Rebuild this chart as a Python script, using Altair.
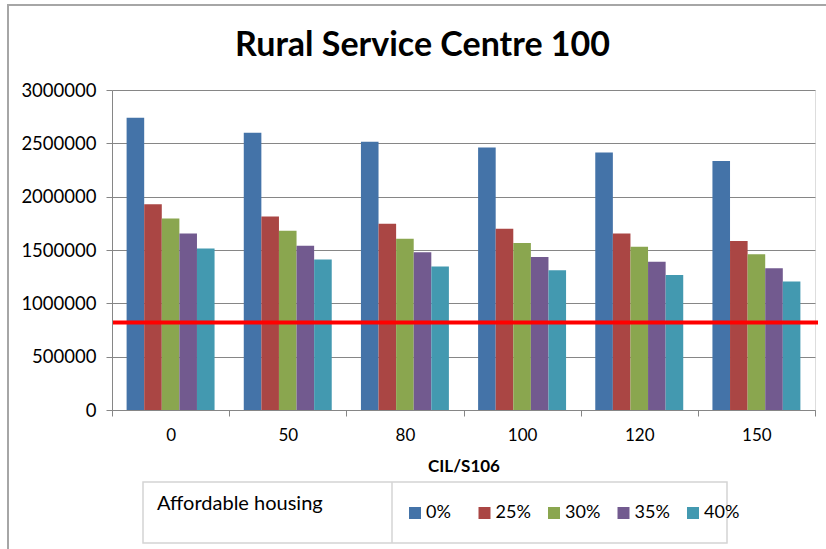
import altair as alt
import pandas as pd

cil = ["0", "50", "80", "100", "120", "150"]
housing = ["0%", "25%", "30%", "35%", "40%"]
v0 = [2740000, 2600000, 2515000, 2460000, 2415000, 2335000]
v25 = [1930000, 1815000, 1745000, 1700000, 1655000, 1585000]
v30 = [1795000, 1680000, 1605000, 1565000, 1530000, 1460000]
v35 = [1655000, 1540000, 1480000, 1435000, 1390000, 1330000]
v40 = [1515000, 1410000, 1345000, 1310000, 1265000, 1205000]
threshold = [820000]
colors = ["#4473A8", "#AA4644", "#8AA64F", "#725A8F", "#4399B0"]
y_ticks = [0, 500000, 1000000, 1500000, 2000000, 2500000, 3000000]

series = [v0, v25, v30, v35, v40]
rows = []
for h, vals in zip(housing, series):
    for c, v in zip(cil, vals):
        rows.append({"cil": c, "ah": h, "value": v})
df = pd.DataFrame(rows)

FONT = "Lato"
GRAY = "#868686"

bars = alt.Chart(df).mark_bar().encode(
    x=alt.X("cil:N", sort=cil,
            scale=alt.Scale(paddingInner=0, paddingOuter=0),
            axis=alt.Axis(title="CIL/S106", tickBand="extent", labelAngle=0,
                          grid=False, domainColor=GRAY, tickColor=GRAY,
                          tickSize=6, labelPadding=11, labelFontSize=17,
                          labelFont=FONT, labelColor="black",
                          titleFont=FONT, titleFontSize=17, titleFontWeight="bold",
                          titleColor="black", titlePadding=15)),
    xOffset=alt.XOffset("ah:N", sort=housing,
                        scale=alt.Scale(paddingInner=0, paddingOuter=0.83)),
    y=alt.Y("value:Q", scale=alt.Scale(domain=[0, 3000000], nice=False),
            axis=alt.Axis(title=None, values=y_ticks, format="d",
                          grid=True, gridColor=GRAY, domainColor=GRAY,
                          tickColor=GRAY, tickSize=6, labelPadding=10,
                          labelFontSize=18.5, labelFont=FONT, labelColor="black")),
    color=alt.Color("ah:N", sort=housing,
                    scale=alt.Scale(domain=housing, range=colors),
                    legend=alt.Legend(title="Affordable housing", orient="none",
                                      legendX=45, legendY=414, direction="horizontal",
                                      columns=5, titleOrient="left",
                                      titleAnchor="start", titleBaseline="middle",
                                      titleFont=FONT, titleFontSize=20,
                                      titleFontWeight="normal", titleColor="black",
                                      titlePadding=83, labelFont=FONT,
                                      labelFontSize=18, labelColor="black",
                                      symbolType="square", symbolSize=144,
                                      symbolStrokeWidth=0, columnPadding=13.5,
                                      gridAlign="all", labelOffset=2)),
)

line = alt.Chart(pd.DataFrame({"v": threshold})).mark_rule(
    color="#FF0000", strokeWidth=4).encode(
    y="v:Q", x=alt.value(1), x2=alt.value(706))

one = pd.DataFrame({"a": [0]})
frame = alt.Chart(one).mark_rect(fillOpacity=0, stroke="#a6a6a6", strokeWidth=2).encode(
    x=alt.value(-104), x2=alt.value(720), y=alt.value(-85), y2=alt.value(470))
legend_box = alt.Chart(one).mark_rect(fillOpacity=0, stroke="#d4d4d4", strokeWidth=1.5).encode(
    x=alt.value(31), x2=alt.value(615), y=alt.value(392), y2=alt.value(453))
divider = alt.Chart(one).mark_rule(stroke="#d4d4d4", strokeWidth=1.5).encode(
    x=alt.value(280), y=alt.value(392), y2=alt.value(453))

chart = alt.layer(frame, legend_box, divider, bars, line).properties(
    width=703, height=320,
    autosize=alt.AutoSizeParams(type="none"),
    padding={"left": 112, "top": 90, "right": 11, "bottom": 139},
    title=alt.Title("Rural Service Centre 100", font=FONT, fontSize=34,
                    fontWeight="bold", color="black", anchor="middle",
                    dx=-41, offset=-59),
).configure_view(stroke="transparent").configure(background="white")

chart.save("out.html", embed_options={"renderer": "svg", "actions": False})
